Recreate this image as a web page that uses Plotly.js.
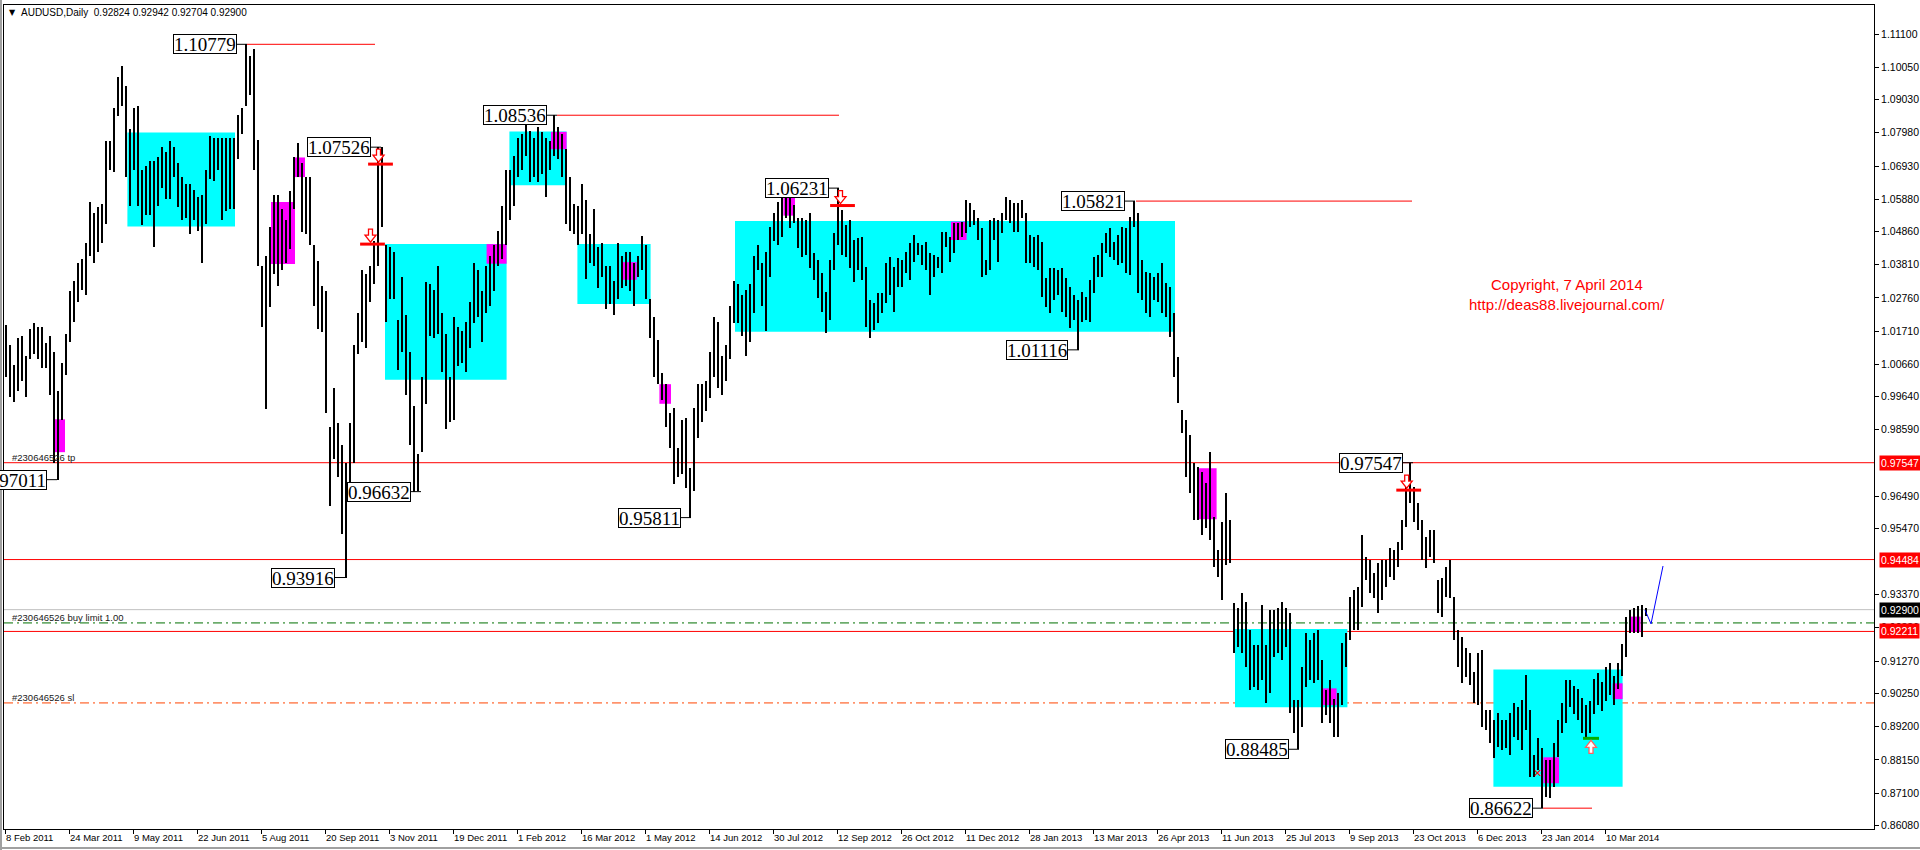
<!DOCTYPE html>
<html><head><meta charset="utf-8">
<script src="https://cdn.plot.ly/plotly-3.0.1.min.js"></script>
<style>html,body{margin:0;padding:0;background:#fff;overflow:hidden}#chart{width:1920px;height:850px}</style>
</head><body><div id="chart"></div>
<script>
// ---- DATA: AUDUSD daily, one sample per two trading days (high / low) ----
const highs = [
1.0189,1.0127,1.0065,1.0150,1.0155,1.0093,1.0178,1.0195,1.0184,1.0184,
1.0133,1.0155,1.0105,0.9980,1.0071,1.0161,1.0297,1.0330,1.0387,1.0398,
1.0449,1.0579,1.0545,1.0562,1.0573,1.0771,1.0771,1.0878,1.0974,1.1008,
1.0946,1.0810,1.0878,1.0884,1.0681,1.0692,1.0709,1.0709,1.0720,1.0754,
1.0737,1.0771,1.0754,1.0703,1.0658,1.0635,1.0635,1.0618,1.0596,1.0601,
1.0681,1.0788,1.0782,1.0782,1.0782,1.0782,1.0782,1.0782,1.0855,1.0878,
1.10779,1.1042,1.1064,1.0776,1.0376,1.0410,1.0500,1.0601,1.0601,1.0556,
1.0522,1.0613,1.0720,1.0765,1.0703,1.0658,1.0658,1.0443,1.0392,1.0313,
1.0297,0.9867,0.9992,0.9879,0.9811,0.9754,0.9879,1.0127,1.0229,1.0364,
1.0353,1.0376,1.0455,1.0753,1.07526,1.0443,1.0438,1.0421,1.0206,1.0342,
1.0223,1.0105,0.9935,0.9783,1.0025,1.0325,1.0319,1.0302,1.0376,1.0229,
1.0161,1.0025,1.0217,1.0184,1.0172,1.0200,1.0263,1.0387,1.0364,1.0297,
1.0376,1.0410,1.0443,1.0489,1.0567,1.0681,1.0681,1.0726,1.0782,1.0793,
1.0822,1.0805,1.0782,1.0816,1.0799,1.0782,1.0771,1.08536,1.0816,1.0793,
1.0748,1.0658,1.0573,1.0567,1.0635,1.0584,1.0477,1.0556,1.0438,1.0449,
1.0376,1.0376,1.0330,1.0449,1.0410,1.0421,1.0421,1.0387,1.0410,1.0472,
1.0443,1.0274,1.0217,1.0144,1.0037,1.0003,0.9913,0.9929,0.9800,0.9890,
0.9896,0.9737,0.9929,1.0003,1.0003,1.0014,1.0105,1.0217,1.0200,1.0093,
1.0127,1.0251,1.0330,1.0319,1.0285,1.0302,1.0319,1.0410,1.0443,1.0387,
1.0421,1.0500,1.0545,1.0579,1.0596,1.0601,1.0596,1.0570,1.0528,1.0528,
1.0522,1.0543,1.0417,1.0396,1.0354,1.0296,1.0396,1.0480,1.06231,1.0554,
1.0506,1.0522,1.0459,1.0464,1.0470,1.0375,1.0269,1.0259,1.0290,1.0290,
1.0385,1.0406,1.0375,1.0401,1.0396,1.0422,1.0449,1.0475,1.0449,1.0443,
1.0454,1.0417,1.0412,1.0406,1.0485,1.0485,1.0470,1.0512,1.0512,1.0517,
1.0586,1.0575,1.0554,1.0528,1.0496,1.0396,1.0522,1.0528,1.0522,1.0543,
1.0596,1.0586,1.0575,1.0575,1.0586,1.0543,1.0475,1.0470,1.0475,1.0454,
1.0338,1.0369,1.0369,1.0364,1.0369,1.0338,1.0311,1.0285,1.0269,1.0296,
1.0280,1.0333,1.0406,1.0412,1.0449,1.0480,1.0496,1.0454,1.0475,1.0501,
1.0496,1.0533,1.05821,1.0543,1.0396,1.0359,1.0354,1.0343,1.0354,1.0385,
1.0322,1.0311,1.0227,1.0090,0.9921,0.9890,0.9842,0.9753,0.9742,0.9726,
0.9689,0.9790,0.9584,0.9479,0.9568,0.9658,0.9574,0.9310,0.9294,0.9342,
0.9315,0.9226,0.9178,0.9178,0.9305,0.9178,0.9289,0.9289,0.9294,0.9315,
0.9294,0.9278,0.9004,0.9004,0.9110,0.9215,0.9194,0.9215,0.9226,0.9131,
0.9036,0.9068,0.9009,0.9025,0.9183,0.9215,0.9331,0.9352,0.9363,0.9526,
0.9458,0.9447,0.9405,0.9437,0.9447,0.9447,0.9484,0.9479,0.9505,0.9574,
0.9679,0.97547,0.9679,0.9626,0.9574,0.9521,0.9542,0.9542,0.9384,0.9389,
0.9426,0.9447,0.9331,0.9226,0.9205,0.9168,0.9152,0.9094,0.9152,0.9162,
0.8973,0.8973,0.8941,0.8962,0.8941,0.8941,0.8962,0.8994,0.8983,0.9004,
0.9083,0.8973,0.8830,0.8883,0.8851,0.8815,0.8815,0.8867,0.8941,0.8994,
0.9068,0.9068,0.9050,0.9040,0.9010,0.8990,0.9000,0.9070,0.9090,0.9060,
0.9110,0.9120,0.9080,0.9120,0.9180,0.9268,0.9289,0.9294,0.9301,0.9305,
0.92942
];
const lows = [
1.0025,0.9963,0.9946,0.9980,1.0014,0.9963,1.0082,1.0099,1.0082,1.0054,
1.0054,0.9969,0.9754,0.97011,0.9890,1.0031,1.0138,1.0200,1.0263,1.0302,
1.0285,1.0409,1.0387,1.0421,1.0449,1.0511,1.0681,1.0675,1.0850,1.0884,
1.0658,1.0567,1.0681,1.0567,1.0505,1.0539,1.0539,1.0438,1.0567,1.0624,
1.0590,1.0590,1.0658,1.0562,1.0522,1.0528,1.0477,1.0522,1.0488,1.0387,
1.0511,1.0652,1.0647,1.0681,1.0522,1.0551,1.0556,1.0556,1.0714,1.0793,
1.0884,1.0918,1.0681,1.0376,1.0184,0.9924,1.0246,1.0353,1.0313,1.0364,
1.0387,1.0432,1.0556,1.0658,1.0483,1.0477,1.0443,1.0251,1.0178,1.0167,
0.9913,0.9619,0.9766,0.9709,0.9529,0.93916,0.9630,0.9754,1.0099,1.0138,
1.0116,1.0263,1.0319,1.0376,1.0500,1.0200,1.0274,1.0274,1.0048,1.0104,
0.9969,0.9811,0.96632,0.9664,0.9788,0.9941,1.0155,1.0150,1.0161,1.0042,
0.9862,0.9884,0.9890,1.0059,1.0071,1.0042,1.0116,1.0195,1.0217,1.0138,
1.0229,1.0251,1.0297,1.0376,1.0398,1.0443,1.0522,1.0567,1.0658,1.0681,
1.0726,1.0641,1.0658,1.0641,1.0669,1.0596,1.0681,1.0726,1.0714,1.0658,
1.0511,1.0488,1.0477,1.0443,1.0477,1.0336,1.0387,1.0376,1.0308,1.0342,
1.0240,1.0257,1.0223,1.0274,1.0308,1.0313,1.0297,1.0251,1.0342,1.0364,
1.0274,1.0150,1.0025,1.0003,0.9952,0.9867,0.9800,0.9687,0.9709,0.9720,
0.9675,0.95811,0.9664,0.9833,0.9884,0.9918,0.9958,1.0025,0.9992,0.9969,
1.0014,1.0082,1.0195,1.0195,1.0155,1.0093,1.0138,1.0229,1.0364,1.0251,
1.0172,1.0342,1.0455,1.0443,1.0469,1.0528,1.0496,1.0512,1.0433,1.0406,
1.0412,1.0369,1.0333,1.0275,1.0232,1.0164,1.0206,1.0364,1.0443,1.0412,
1.0406,1.0369,1.0327,1.0364,1.0333,1.0185,1.0148,1.0174,1.0196,1.0227,
1.0259,1.0285,1.0232,1.0311,1.0311,1.0354,1.0333,1.0391,1.0412,1.0380,
1.0364,1.0285,1.0343,1.0369,1.0354,1.0438,1.0391,1.0417,1.0459,1.0470,
1.0480,1.0501,1.0506,1.0459,1.0343,1.0348,1.0364,1.0459,1.0391,1.0480,
1.0522,1.0512,1.0485,1.0485,1.0528,1.0385,1.0385,1.0375,1.0364,1.0280,
1.0248,1.0227,1.0269,1.0285,1.0232,1.0217,1.0180,1.0206,1.01116,1.0201,
1.0206,1.0201,1.0290,1.0343,1.0343,1.0417,1.0406,1.0396,1.0380,1.0385,
1.0354,1.0348,1.0501,1.0290,1.0269,1.0227,1.0217,1.0269,1.0264,1.0227,
1.0217,1.0153,1.0027,0.9943,0.9848,0.9711,0.9658,0.9574,0.9574,0.9526,
0.9547,0.9510,0.9426,0.9394,0.9320,0.9431,0.9436,0.9152,0.9173,0.9152,
0.9110,0.9036,0.9046,0.9036,0.9068,0.8994,0.9025,0.9141,0.9152,0.9131,
0.9173,0.8962,0.8899,0.88485,0.8920,0.9046,0.9068,0.9057,0.9068,0.8930,
0.8957,0.8930,0.8888,0.8888,0.8988,0.9110,0.9194,0.9226,0.9226,0.9299,
0.9384,0.9342,0.9326,0.9278,0.9320,0.9363,0.9394,0.9384,0.9426,0.9479,
0.9552,0.9626,0.9568,0.9542,0.9447,0.9421,0.9458,0.9436,0.9278,0.9268,
0.9331,0.9326,0.9194,0.9110,0.9057,0.9078,0.9052,0.8994,0.8988,0.8920,
0.8909,0.8867,0.8820,0.8857,0.8846,0.8851,0.8830,0.8888,0.8878,0.8846,
0.8909,0.8762,0.8762,0.8783,0.86622,0.8699,0.8693,0.8730,0.8825,0.8899,
0.8930,0.8983,0.8960,0.8940,0.8900,0.8880,0.8900,0.8960,0.8990,0.8970,
0.9000,0.9020,0.8990,0.9040,0.9080,0.9140,0.9215,0.9215,0.9215,0.9202,
0.92704
];
const barsPerSample = 2;
const lastBarOHLC = [0.92824, 0.92942, 0.92704, 0.92900];
const dateTickBars = [0,32,64,96,128,160,192,224,256,288,320,352,384,416,448,480,512,544,576,608,640,672,704,736,768,800];
const dateTickLabels = ["8 Feb 2011","24 Mar 2011","9 May 2011","22 Jun 2011","5 Aug 2011","20 Sep 2011","3 Nov 2011","19 Dec 2011","1 Feb 2012","16 Mar 2012","1 May 2012","14 Jun 2012","30 Jul 2012","12 Sep 2012","26 Oct 2012","11 Dec 2012","28 Jan 2013","13 Mar 2013","26 Apr 2013","11 Jun 2013","25 Jul 2013","9 Sep 2013","23 Oct 2013","6 Dec 2013","23 Jan 2014","10 Mar 2014"];
const priceTicks = [1.11100,1.10050,1.09030,1.07980,1.06930,1.05880,1.04860,1.03810,1.02760,1.01710,1.00660,0.99640,0.98590,0.96490,0.95470,0.93370,0.92330,0.91270,0.90250,0.89200,0.88150,0.87100,0.86080];
const swingBars = [121,188,26,170,208,276,343,417,565,537,704,647,769];
const swingPrices = [1.10779,1.07526,0.97011,0.93916,0.96632,1.08536,0.95811,1.06231,1.05821,1.01116,0.97547,0.88485,0.86622];
const levelPrices = [0.97547,0.94484,0.92211];
const bidPrice = 0.92900;
const buyLimitPrice = 0.9248;
const stopLossPrice = 0.8995;
const forecastBars = [820, 823, 829];
const forecastPrices = [0.9289, 0.9245, 0.9428];

// ---- LAYOUT OBJECTS ----
const PX = x => (x - 4) / 1870;
const PY = y => (829 - y) / 824;
const PRICE_PER_PX = (1.12022 - 0.85963) / 824;
const BAR_PER_PX = 0.5;
const cyanZones = [[61.2,115,1.0502,1.0799],[190,250.8,1.0017,1.0446],[252.2,280.8,1.0632,1.0802],[286.2,322.8,1.0257,1.0446],[365,585,1.0169,1.0519],[615,671.2,0.8981,0.9229],[744.2,808.8,0.8730,0.9101]];
const magentaZones = [[24.2,30,0.9788,0.9892],[133,145,1.0383,1.0579],[144.2,150,1.0658,1.0720],[240.8,250.8,1.0384,1.0446],[273,280.8,1.0746,1.0801],[308,315.8,1.0333,1.0389],[327.2,333,0.9941,1.0003],[389.2,395,1.0536,1.0598],[473,480.8,1.0459,1.0517],[596.2,605.8,0.9576,0.9737],[658,665.8,0.8988,0.9041],[769.2,777,0.8741,0.8823],[812.2,817.8,0.9220,0.9268],[803.8,808.8,0.9007,0.9057]];
const rays = [[121,185,1.10779],[276,417,1.08536],[565.5,703.5,1.05821],[769,793.5,0.86622]];
const sellMarks = [[187.75,1.0699],[183.75,1.0446],[418.75,1.0568],[701.85,0.9668]];
const buyMark = [793, 0.8883];

// block arrow outline (pixel offsets from the tip, body away from tip)
const ARROW = [[-2,13],[2,13],[2,7],[5.5,7],[0,0],[-5.5,7],[-2,7]];
function arrowPath(cx, tipPrice, dir){ // dir=+1 body above tip (points down), -1 body below (points up)
  return ARROW.map((p,i)=>(i?'L':'M')+(cx+p[0]*BAR_PER_PX)+','+(tipPrice+dir*p[1]*PRICE_PER_PX)).join(' ')+' Z';
}

const shapes = [];
cyanZones.forEach(z => shapes.push({type:'rect',xref:'x',yref:'y',x0:z[0],x1:z[1],y0:z[2],y1:z[3],fillcolor:'#00ffff',line:{width:0},layer:'below'}));
magentaZones.forEach(z => shapes.push({type:'rect',xref:'x',yref:'y',x0:z[0],x1:z[1],y0:z[2],y1:z[3],fillcolor:'#ff00ff',line:{width:0},layer:'below'}));
levelPrices.forEach(p => shapes.push({type:'line',xref:'paper',yref:'y',x0:0,x1:1,y0:p,y1:p,line:{color:'#ff0000',width:1},layer:'below'}));
shapes.push({type:'line',xref:'paper',yref:'y',x0:0,x1:1,y0:bidPrice,y1:bidPrice,line:{color:'#c0c0c0',width:1},layer:'below'});
shapes.push({type:'line',xref:'paper',yref:'y',x0:0,x1:1,y0:buyLimitPrice,y1:buyLimitPrice,line:{color:'#007000',width:1,dash:'9px,4px,2px,4px'},layer:'below'});
shapes.push({type:'line',xref:'paper',yref:'y',x0:0,x1:1,y0:stopLossPrice,y1:stopLossPrice,line:{color:'#ff4500',width:1,dash:'9px,4px,2px,4px'},layer:'below'});
rays.forEach(r => shapes.push({type:'line',xref:'x',yref:'y',x0:r[0],x1:r[1],y0:r[2],y1:r[2],line:{color:'#ff0000',width:1}}));
sellMarks.forEach(m => {
  shapes.push({type:'line',xref:'x',yref:'y',x0:m[0]-6.2,x1:m[0]+6.2,y0:m[1],y1:m[1],line:{color:'#ff0000',width:3}});
  shapes.push({type:'path',xref:'x',yref:'y',path:arrowPath(m[0]-1, m[1]+2*PRICE_PER_PX, 1),fillcolor:'#ffffff',line:{color:'#ff0000',width:1.3}});
});
shapes.push({type:'line',xref:'x',yref:'y',x0:buyMark[0]-4,x1:buyMark[0]+4,y0:buyMark[1],y1:buyMark[1],line:{color:'#00b000',width:3}});
shapes.push({type:'path',xref:'x',yref:'y',path:arrowPath(buyMark[0], buyMark[1]-2*PRICE_PER_PX, -1),fillcolor:'#ffffff',line:{color:'#ff6060',width:1.3}});
// window frame
shapes.push({type:'line',xref:'paper',yref:'paper',x0:PX(1),x1:PX(1),y0:PY(0),y1:PY(850),line:{color:'#a0a0a0',width:2}});
shapes.push({type:'line',xref:'paper',yref:'paper',x0:PX(0),x1:PX(1920),y0:PY(848),y1:PY(848),line:{color:'#a0a0a0',width:2}});

const sans = "'Liberation Sans',Arial,sans-serif";
const serif = "'Liberation Serif','Times New Roman',serif";
const annotations = [];
swingBars.forEach((b,j) => annotations.push({
  x:b, y:swingPrices[j], xref:'x', yref:'y', text:swingPrices[j].toFixed(5),
  showarrow:true, arrowhead:0, arrowwidth:1, arrowcolor:'#000', ax:-42, ay:0, standoff:0,
  font:{family:serif,size:19,color:'#000'}, bgcolor:'#fff', bordercolor:'#000', borderwidth:1, borderpad:0, height:18
}));
annotations.push({x:766, y:0.8772, xref:'x', yref:'y', text:'✕', showarrow:false, xanchor:'center',
  font:{family:"'DejaVu Sans',sans-serif",size:11,color:'#ff0000'}});
// right axis price labels
levelPrices.concat([bidPrice]).forEach(p => annotations.push({
  x:1, xref:'paper', y:p, yref:'y', xanchor:'left', xshift:5, text:p.toFixed(5), showarrow:false,
  bgcolor: p===bidPrice ? '#000' : '#ff0000', borderpad:1,
  font:{family:sans,size:10.5,color:'#fff'}
}));
// order labels
const small = {family:sans,size:9.5,color:'#202020'};
[['#230646526 tp',457],['#230646526 buy limit 1.00',617],['#230646526 sl',697]].forEach(t =>
  annotations.push({x:PX(11),y:PY(t[1]),xref:'paper',yref:'paper',xanchor:'left',yanchor:'middle',text:t[0],showarrow:false,font:small,borderpad:0}));
// header
annotations.push({x:PX(8),y:PY(13),xref:'paper',yref:'paper',xanchor:'left',yanchor:'middle',text:'▼',showarrow:false,font:{family:"'DejaVu Sans',sans-serif",size:8,color:'#000'},borderpad:0});
annotations.push({x:PX(20),y:PY(13),xref:'paper',yref:'paper',xanchor:'left',yanchor:'middle',showarrow:false,borderpad:0,
  text:'AUDUSD,Daily&nbsp; ' + lastBarOHLC.map(v=>v.toFixed(5)).join(' '), font:{family:sans,size:10,color:'#000'}});
// copyright
const red15 = {family:sans,size:15,color:'#ff0000'};
annotations.push({x:PX(1567),y:PY(285),xref:'paper',yref:'paper',xanchor:'center',yanchor:'middle',text:'Copyright, 7 April 2014',showarrow:false,font:red15,borderpad:0});
annotations.push({x:PX(1567),y:PY(305),xref:'paper',yref:'paper',xanchor:'center',yanchor:'middle',text:'http://deas88.livejournal.com/',showarrow:false,font:red15,borderpad:0});

// ---- TRACES ----
const xs = highs.map((_,k) => barsPerSample*k + 0.5);
const traces = [
  {type:'bar', x:xs, base:lows, y:highs.map((h,k)=>h-lows[k]), width:0.8,
   marker:{color:'#000', line:{width:0}}, hoverinfo:'skip'},
  {type:'scatter', mode:'lines', x:forecastBars, y:forecastPrices, line:{color:'#0000ff',width:1}, hoverinfo:'skip'}
];

const layout = {
  width:1920, height:850, margin:{l:4,r:46,t:5,b:21,pad:0},
  paper_bgcolor:'#fff', plot_bgcolor:'#fff', showlegend:false, bargap:0,
  xaxis:{range:[-0.5,934.5], showgrid:false, zeroline:false, showline:true, linecolor:'#000', linewidth:1, mirror:true,
    tickmode:'array', tickvals:dateTickBars, ticktext:dateTickLabels, ticks:'outside', ticklen:4, tickcolor:'#000',
    tickangle:0, ticklabelposition:'outside right', tickfont:{family:sans,size:9.5,color:'#000'}, fixedrange:true},
  yaxis:{range:[0.85963,1.12022], side:'right', showgrid:false, zeroline:false, showline:true, linecolor:'#000', linewidth:1, mirror:true,
    tickmode:'array', tickvals:priceTicks, ticktext:priceTicks.map(v=>v.toFixed(5)), ticks:'outside', ticklen:4, tickcolor:'#000',
    tickfont:{family:sans,size:10.5,color:'#000'}, fixedrange:true},
  shapes:shapes, annotations:annotations
};
Plotly.newPlot('chart', traces, layout, {staticPlot:true, displayModeBar:false});
</script>
</body></html>
